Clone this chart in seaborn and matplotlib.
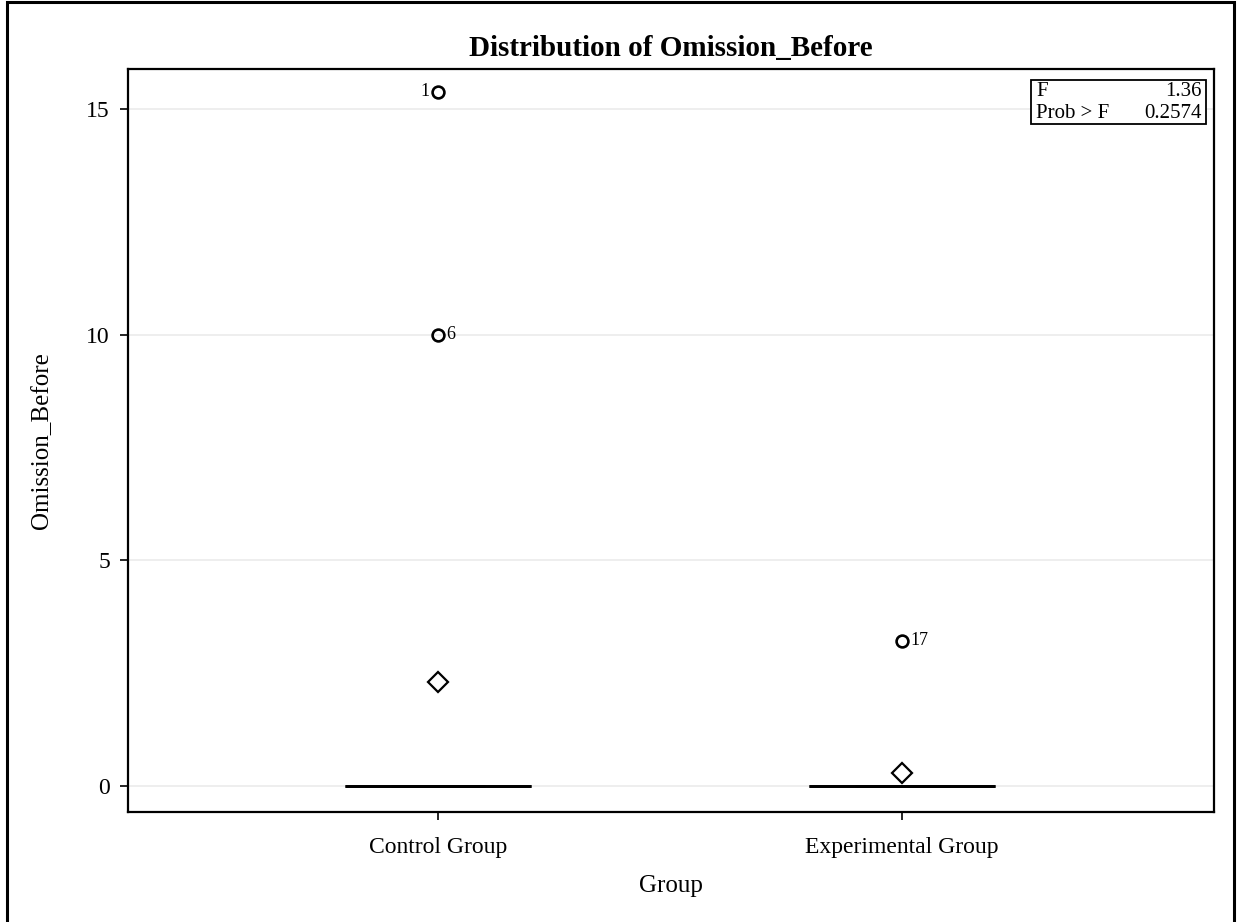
import numpy as np
import pandas as pd
import seaborn as sns
import matplotlib
matplotlib.use("Agg")
import matplotlib.pyplot as plt
from matplotlib.patches import Rectangle

# Observations per group (observation numbers run 1..22)
group_labels = ["Control Group", "Experimental Group"]
control_ids = list(range(1, 12))
control_values = [15.38, 0, 0, 0, 0, 10.0, 0, 0, 0, 0, 0]
experimental_ids = list(range(12, 23))
experimental_values = [0, 0, 0, 0, 0, 3.22, 0, 0, 0, 0, 0]

# One-way ANOVA summary shown in the inset
f_value = "1.36"
prob_f = "0.2574"

y_ticks = [0, 5, 10, 15]

df = pd.DataFrame({
    "Obs": control_ids + experimental_ids,
    "Group": [group_labels[0]] * len(control_values) + [group_labels[1]] * len(experimental_values),
    "Omission_Before": control_values + experimental_values,
})

sns.set_theme(style="white")
plt.rcParams["font.family"] = ["Liberation Serif", "DejaVu Serif"]
plt.rcParams["text.color"] = "black"
plt.rcParams["axes.labelcolor"] = "black"
plt.rcParams["xtick.color"] = "black"
plt.rcParams["ytick.color"] = "black"

fig = plt.figure(figsize=(12.43, 9.22), dpi=100)
ax = fig.add_axes([0.103, 0.1193, 0.8737, 0.8059])

sns.boxplot(
    data=df, x="Group", y="Omission_Before", order=group_labels,
    width=0.4, whis=1.5, showmeans=True, ax=ax,
    boxprops=dict(facecolor="white", edgecolor="black", linewidth=2),
    medianprops=dict(color="black", linewidth=2),
    whiskerprops=dict(color="black", linewidth=2),
    capprops=dict(color="black", linewidth=2),
    meanprops=dict(marker="D", markerfacecolor="white", markeredgecolor="black",
                   markersize=10.5, markeredgewidth=1.6),
    flierprops=dict(marker="o", markerfacecolor="none", markeredgecolor="black",
                    markersize=8.5, markeredgewidth=1.9),
)

# Label each outlier with its observation number
for gi, g in enumerate(group_labels):
    sub = df[df["Group"] == g]["Omission_Before"]
    q1, q3 = np.percentile(sub, [25, 75])
    iqr = q3 - q1
    lo, hi = q1 - 1.5 * iqr, q3 + 1.5 * iqr
    for _, row in df[df["Group"] == g].iterrows():
        v = row["Omission_Before"]
        if v < lo or v > hi:
            if v == df["Omission_Before"].max():
                ax.annotate(str(row["Obs"]), (gi, v), xytext=(-6, 0),
                            textcoords="offset points", ha="right", va="center",
                            fontsize=13)
            else:
                ax.annotate(str(row["Obs"]), (gi, v), xytext=(6, 0),
                            textcoords="offset points", ha="left", va="center",
                            fontsize=13)

ax.set_xlim(-0.668, 1.672)
ax.set_ylim(-0.576, 15.886)
ax.set_yticks(y_ticks)
ax.set_yticklabels([str(t) for t in y_ticks])
ax.yaxis.grid(True, color="#ebebeb", linewidth=1.2, zorder=0)
ax.set_axisbelow(True)

for s in ax.spines.values():
    s.set_color("black")
    s.set_linewidth(1.6)

ax.tick_params(axis="both", which="major", direction="out", length=6, width=1.2,
               color="black", labelsize=17, left=True, bottom=True)
ax.tick_params(axis="x", pad=12)
ax.tick_params(axis="y", pad=7)
ax.set_xlabel("Group", fontsize=18, labelpad=12)
ax.set_ylabel("Omission_Before", fontsize=18, labelpad=24)
ax.set_title("Distribution of Omission_Before", fontsize=21, fontweight="bold", pad=9)

# ANOVA inset box
ax.add_patch(Rectangle((0.8315, 0.926), 0.161, 0.059, transform=ax.transAxes,
                       facecolor="white", edgecolor="black", linewidth=1.3, zorder=5))
ax.text(0.836, 0.9695, "F", transform=ax.transAxes, ha="left", va="center", fontsize=15, zorder=6)
ax.text(0.989, 0.9695, f_value, transform=ax.transAxes, ha="right", va="center", fontsize=15, zorder=6)
ax.text(0.836, 0.9405, "Prob > F", transform=ax.transAxes, ha="left", va="center", fontsize=15, zorder=6)
ax.text(0.989, 0.9405, prob_f, transform=ax.transAxes, ha="right", va="center", fontsize=15, zorder=6)

# Outer frame around the graph
fig.patches.append(Rectangle((7 / 1243, -0.01), (1234 - 7) / 1243, 1.0 - 2.5 / 922 + 0.01,
                             transform=fig.transFigure, fill=False, edgecolor="black",
                             linewidth=2.2))

fig.savefig("out.png", dpi=100)
